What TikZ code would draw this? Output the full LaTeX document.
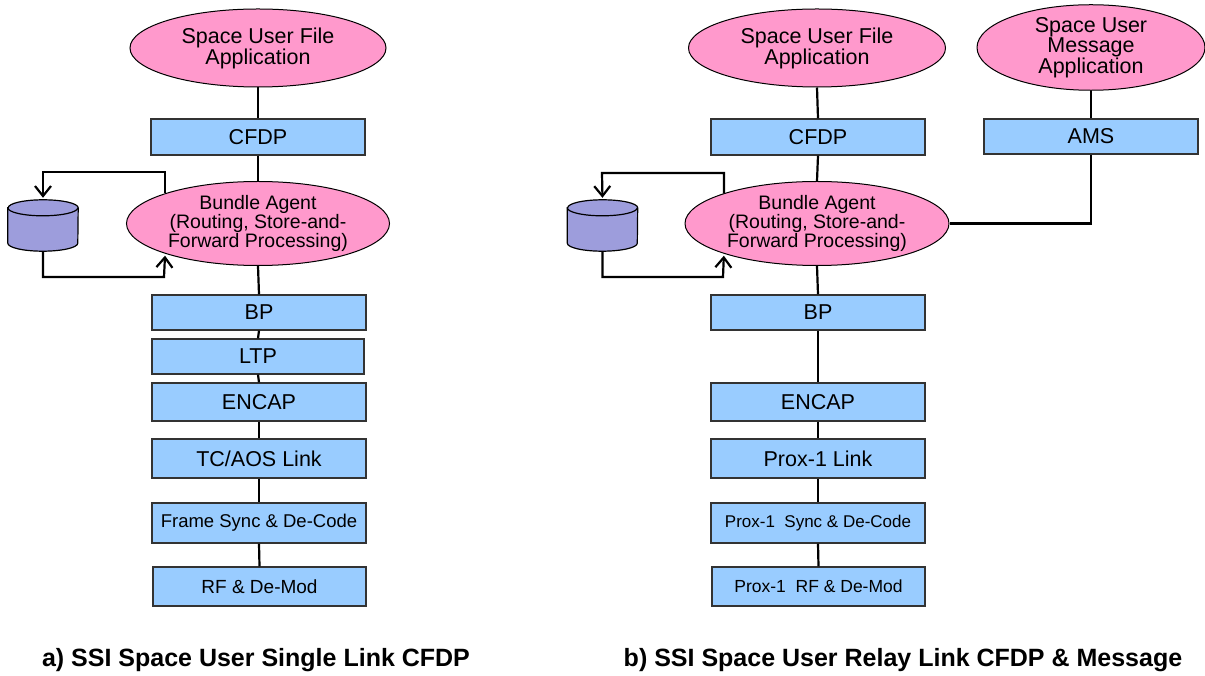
\documentclass[tikz,border=0pt]{standalone}
\usepackage{fontspec}
\setmainfont{Liberation Sans}
\usetikzlibrary{arrows.meta,positioning,shapes.geometric}
\definecolor{ppink}{HTML}{FF99CC}
\definecolor{pblue}{HTML}{99CCFF}
\definecolor{plav}{HTML}{9D9DDC}
\definecolor{pedge}{HTML}{333333}
\tikzset{
  % application / agent ellipses
  app/.style   = {ellipse, draw=black, fill=ppink, line width=1pt, inner sep=0pt,
                  align=center, font=\fontsize{21.5}{21}\selectfont},
  agent/.style = {app, font=\fontsize{19.5}{17.5}\selectfont,
                  minimum width=263pt, minimum height=84pt},
  % protocol layers
  layer/.style   = {rectangle, draw=pedge, fill=pblue, line width=1.2pt, inner sep=0pt,
                    minimum width=214pt, minimum height=#1, font=\fontsize{21.5}{22}\selectfont},
  layer/.default = 36pt,
  small/.style = {font=\fontsize{#1}{20}\selectfont},
  store/.style = {rectangle, minimum width=70pt, minimum height=51pt, inner sep=0pt},
  drum/.style  = {draw=black, fill=plav, line width=1.2pt},
  lane/.style  = {line width=2.2pt, draw=black},
  cyc/.style   = {lane, shorten >=2pt, -{Straight Barb[length=10pt,width=16pt]}},
  caption/.style = {font=\fontsize{25}{26}\selectfont\bfseries},
}
% disk drum drawn inside a store node
\newcommand{\drum}[1]{%
  \filldraw[drum] ([yshift=-8pt]#1.north west) -- ([yshift=8pt]#1.south west)
    arc[start angle=180, end angle=360, x radius=35pt, y radius=8pt]
    -- ([yshift=-8pt]#1.north east)
    arc[start angle=0, end angle=180, x radius=35pt, y radius=8pt] -- cycle;
  \draw[drum, fill=none] ([yshift=-8pt]#1.north west)
    arc[start angle=180, end angle=360, x radius=35pt, y radius=8pt];}
\begin{document}
\begin{tikzpicture}[x=1pt,y=1pt]
\useasboundingbox (0,0) rectangle (1205,675);
% a) single link
\node[app, minimum width=256pt, minimum height=78pt] (appA) at (258,627) {Space User File\\Application};
\node[layer] (cfdpA) at (258,538) {CFDP};
\node[agent] (baA) at (258,451.5) {Bundle Agent\\(Routing, Store-and-\\Forward Processing)};
\node[store] (dbA) at (43,449.5) {};
\drum{dbA}
\node[layer=35pt] (bpA) at (259,362.5) {BP};
\node[layer=35pt, minimum width=212pt] (ltpA) at (258,318.5) {LTP};
\node[layer=38pt] (encA) at (259,273) {ENCAP};
\node[layer=39pt] (linkA) at (259,216.5) {TC/AOS Link};
\node[layer=40pt, small=18.5] (syncA) at (259,152) {Frame Sync \& De-Code};
\node[layer=39pt, minimum width=213pt, small=19] (rfA) at (259.5,88.5) {RF \& De-Mod};
\foreach \u/\v in {appA/cfdpA,cfdpA/baA,baA/bpA,bpA/ltpA,ltpA/encA,encA/linkA,linkA/syncA,syncA/rfA}
  \draw[lane] (\u.south) -- (\v.north);
% store loop
\coordinate (topA) at (43,503);
\coordinate (botA) at (164,398);
\draw[cyc] (baA.162) |- (topA) -- (dbA.north);
\draw[cyc] (dbA.south) |- (botA) -- (baA.198);
% b) relay link
\node[app, minimum width=257pt, minimum height=78pt] (appB) at (817,627) {Space User File\\Application};
\node[app, minimum width=228pt, minimum height=83pt, font=\fontsize{21.5}{20.5}\selectfont] (msgB) at (1091,627.5) {Space User\\Message\\Application};
\node[layer] (cfdpB) at (818,538) {CFDP};
\node[layer=35pt] (amsB) at (1091,538.5) {AMS};
\node[agent, minimum width=264pt] (baB) at (817,451.5) {Bundle Agent\\(Routing, Store-and-\\Forward Processing)};
\node[store] (dbB) at (602.5,449.5) {};
\drum{dbB}
\node[layer=35pt] (bpB) at (818,362.5) {BP};
\node[layer=38pt] (encB) at (818,273) {ENCAP};
\node[layer=39pt] (proxB) at (818,216.5) {Prox-1 Link};
\node[layer=40pt, small=17] (psyncB) at (818,152) {Prox-1\ \ Sync \& De-Code};
\node[layer=39pt, minimum width=213pt, small=17.5] (prfB) at (818.5,88.5) {Prox-1\ \ RF \& De-Mod};
\foreach \u/\v in {appB/cfdpB,cfdpB/baB,baB/bpB,bpB/encB,encB/proxB,proxB/psyncB,psyncB/prfB,msgB/amsB}
  \draw[lane] (\u.south) -- (\v.north);
\draw[lane] (amsB.south) |- (baB.east);
% store loop
\coordinate (topB) at (602,502);
\coordinate (botB) at (723,398);
\draw[cyc] (baB.162) |- (topB) -- (dbB.north);
\draw[cyc] (dbB.south) |- (botB) -- (baB.198);
% captions
\node[caption] (capA) at (256,15) {a) SSI Space User Single Link CFDP};
\node[caption] (capB) at (903,15) {b) SSI Space User Relay Link CFDP \& Message};
\end{tikzpicture}
\end{document}
